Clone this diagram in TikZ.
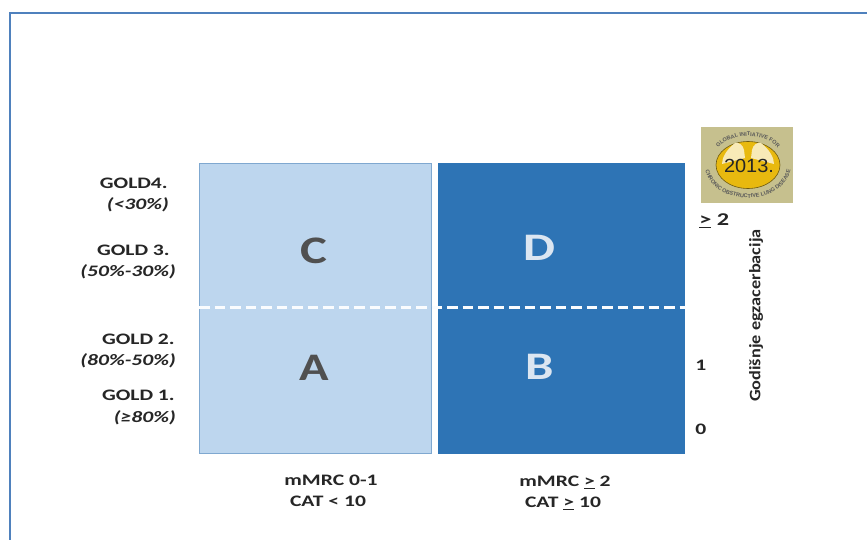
\documentclass[tikz,border=0pt]{standalone}
\usepackage{fontspec}
\setmainfont{Carlito}
\newfontfamily\logofont{Liberation Sans}
\newfontfamily\yearfont{Liberation Sans}
\usetikzlibrary{decorations.text}
\definecolor{framec}{HTML}{4F81BD}
\definecolor{lightq}{HTML}{BDD6EE}
\definecolor{lightedge}{HTML}{7FA8D0}
\definecolor{darkq}{HTML}{2E74B5}
\definecolor{ink}{HTML}{262626}
\definecolor{letterdark}{HTML}{505050}
\definecolor{letterlight}{HTML}{DCE6F1}
\definecolor{logobg}{HTML}{C6C08E}
\definecolor{logogold}{HTML}{E8B90F}
\definecolor{logoedge}{HTML}{6E5A10}
\tikzset{
  lab/.style={font=\fontsize{16}{18}\selectfont\bfseries, text=ink, xscale=1.35, inner sep=0pt, align=center},
  pct/.style={font=\fontsize{16}{18}\selectfont\bfseries\itshape, text=ink, xscale=1.35, inner sep=0pt},
  quad/.style={font=\fontsize{39}{41}\selectfont\bfseries, xscale=1.3, inner sep=0pt},
  lightbox/.style={fill=lightq, draw=lightedge, line width=1pt},
  darkbox/.style={fill=darkq, draw=none},
  divider/.style={draw=white!92!lightq, line width=2.4pt, dash pattern=on 10.5pt off 5pt},
  framel/.style={draw=framec, line width=2pt}
}
\begin{document}
\begin{tikzpicture}[x=1pt,y=-1pt]
\useasboundingbox (0,0) rectangle (867,540);
\fill[white] (0,0) rectangle (867,540);
\draw[framel] (9.5,542) -- (9.5,13) -- (869,13);
% quadrants
\node[lightbox, minimum width=232pt, minimum height=290pt, inner sep=0pt, anchor=north west] (left) at (199,163) {};
\node[darkbox, minimum width=247pt, minimum height=291pt, inner sep=0pt, anchor=north west] (right) at (438,162.5) {};
\coordinate (dl) at (199,307.5);
\coordinate (dr) at (686,307.5);
\draw[divider] (dl) -- (dr);
\node[quad,text=letterdark] (c) at (314,250.5) {C};
\node[quad,text=letterlight] (d) at (539,247.5) {D};
\node[quad,text=letterdark,xscale=0.96] (a) at (314,367.5) {A};
\node[quad,text=letterlight] (b) at (540,366.5) {B};
% left labels
\node[lab,anchor=east] (g4) at (168,183.5) {GOLD4.};
\node[pct,anchor=east] (p4) at (169,204.5) {(<30\%)};
\node[lab,anchor=east] (g3) at (170,250.5) {GOLD 3.};
\node[pct,anchor=east] (p3) at (176,271.5) {(50\%-30\%)};
\node[lab,anchor=east] (g2) at (175,339.5) {GOLD 2.};
\node[pct,anchor=east] (p2) at (176,360.5) {(80\%-50\%)};
\node[lab,anchor=east] (g1) at (175,395.5) {GOLD 1.};
\node[pct,anchor=east] (p1) at (176,417.5) {(≥80\%)};
% bottom labels
\node[lab] (m1) at (331,480.5) {mMRC 0-1};
\node[lab] (c1) at (328,501.5) {CAT < 10};
\node[lab] (m2) at (565,482.5) {mMRC \underline{>} 2};
\node[lab] (c2) at (563,503.5) {CAT \underline{>} 10};
% right labels
\node[lab,anchor=west,font=\fontsize{18}{20}\selectfont\bfseries] (r2) at (699,220.5) {\underline{>} 2};
\node[lab,anchor=west] (r1) at (695,365.5) {1};
\node[lab,anchor=west] (r0) at (695,429.5) {0};
\node[font=\fontsize{16}{18}\selectfont\bfseries, text=ink, rotate=90, xscale=1.14, inner sep=0pt] (ann) at (756,315.5) {Godišnje egzacerbacija};
% logo
\node[fill=logobg, draw=none, minimum width=92pt, minimum height=76pt, inner sep=0pt, anchor=north west] (logo) at (701,127) {};
\fill[logogold, draw=logoedge, line width=.6pt] (748,165) ellipse[x radius=32pt, y radius=23.5pt];
\fill[white!70!logogold] (735,143) .. controls (726,150) and (722,158) .. (722,164) -- (745,158) -- (744,150) .. controls (743,145) and (739,142) .. (735,143) -- cycle;
\fill[white!70!logogold] (761,143) .. controls (770,150) and (774,158) .. (774,164) -- (751,158) -- (752,150) .. controls (753,145) and (757,142) .. (761,143) -- cycle;
\path[decorate, decoration={text along path, text align=center, text={|\logofont\fontsize{5.5}{5.5}\selectfont\bfseries\color{black!65}|GLOBAL INITIATIVE FOR}}]
  (711,165) arc[start angle=180, end angle=0, x radius=37pt, y radius=29pt];
\path[decorate, decoration={text along path, text align=center, text={|\logofont\fontsize{5.5}{5.5}\selectfont\bfseries\color{black!65}|CHRONIC OBSTRUCTIVE LUNG DISEASE}}]
  (705,165) arc[start angle=180, end angle=360, x radius=43pt, y radius=33pt];
\node[font=\yearfont\fontsize{19}{21}\selectfont, text=black!85, inner sep=0pt, xscale=1.05] (year) at (749,166) {2013.};
\end{tikzpicture}
\end{document}
